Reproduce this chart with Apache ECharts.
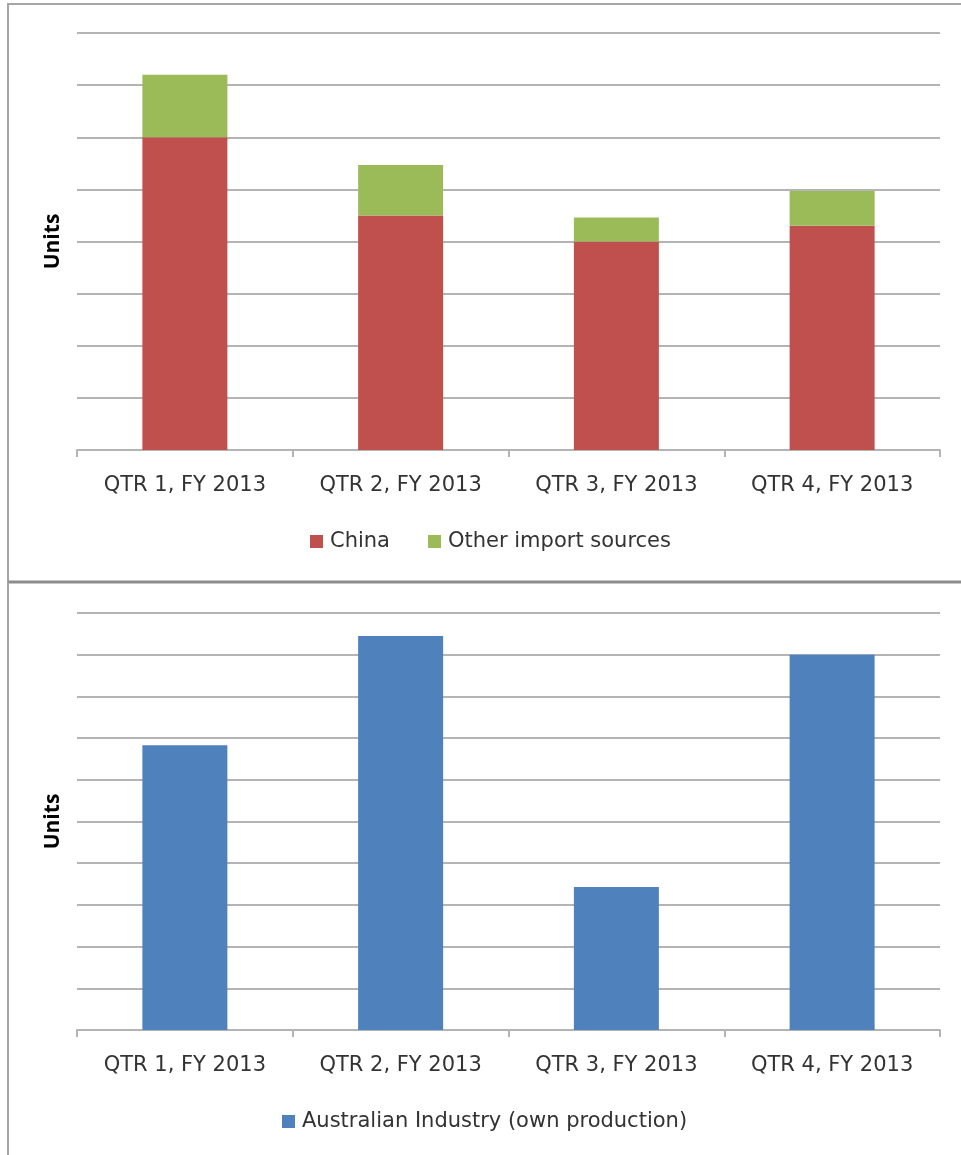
<!DOCTYPE html>
<html>
<head>
<meta charset="utf-8">
<style>
  html, body { margin: 0; padding: 0; background: #ffffff; }
  #chart { width: 961px; height: 1155px; }
</style>
<script src="https://cdn.jsdelivr.net/npm/echarts@6/dist/echarts.min.js"></script>
</head>
<body>
<div id="chart"></div>
<script>
// Quarterly categories shared by both panels
const quarters = ['QTR 1, FY 2013', 'QTR 2, FY 2013', 'QTR 3, FY 2013', 'QTR 4, FY 2013'];

// Imports by source (units, unlabelled scale)
const chinaImports = [6.0, 4.5, 4.0, 4.3];
const otherImports = [1.2, 0.97, 0.46, 0.67];

// Australian industry own production (units, unlabelled scale)
const australianProduction = [6.83, 9.45, 3.43, 9.0];

const FONT = '"DejaVu Sans", "Open Sans", sans-serif';
const TITLE_FONT = '"Open Sans", sans-serif';
const GRID_COLOR = '#b4b4b4';
const TEXT_COLOR = '#333333';

function categoryAxis(gridIndex) {
  return {
    type: 'category',
    gridIndex: gridIndex,
    data: quarters,
    boundaryGap: true,
    axisLine: { lineStyle: { color: GRID_COLOR, width: 2 } },
    axisTick: { show: true, alignWithLabel: false, length: 7, lineStyle: { color: GRID_COLOR, width: 2 } },
    axisLabel: { color: TEXT_COLOR, fontFamily: FONT, fontSize: 21, margin: 25 }
  };
}

function valueAxis(gridIndex, max) {
  return {
    type: 'value',
    gridIndex: gridIndex,
    min: 0,
    max: max,
    interval: 1,
    name: 'Units',
    nameLocation: 'middle',
    nameGap: 13,
    nameRotate: 90,
    nameTextStyle: { color: '#000000', fontFamily: TITLE_FONT, fontSize: 21, fontWeight: 'bold' },
    axisLine: { show: false },
    axisTick: { show: false },
    axisLabel: { show: false },
    splitLine: { lineStyle: { color: GRID_COLOR, width: 2 } }
  };
}

const chart = echarts.init(document.getElementById('chart'), null, { renderer: 'canvas' });

chart.setOption({
  backgroundColor: '#ffffff',
  animation: false,
  textStyle: { fontFamily: FONT },
  grid: [
    { left: 77, right: 21, top: 33, height: 417 },
    { left: 77, right: 21, top: 613, height: 417 }
  ],
  xAxis: [categoryAxis(0), categoryAxis(1)],
  yAxis: [valueAxis(0, 8), valueAxis(1, 10)],
  legend: [
    {
      data: ['China', 'Other import sources'],
      left: 305, top: 526,
      icon: 'rect', itemWidth: 13, itemHeight: 13, itemGap: 38,
      textStyle: { color: TEXT_COLOR, fontFamily: FONT, fontSize: 21, padding: [0, 0, 0, 2] }
    },
    {
      data: ['Australian Industry (own production)'],
      left: 277, top: 1106,
      icon: 'rect', itemWidth: 13, itemHeight: 13,
      textStyle: { color: TEXT_COLOR, fontFamily: FONT, fontSize: 21, padding: [0, 0, 0, 2] }
    }
  ],
  series: [
    {
      name: 'China', type: 'bar', stack: 'imports',
      xAxisIndex: 0, yAxisIndex: 0, barWidth: 85,
      itemStyle: { color: '#C0504D' },
      data: chinaImports
    },
    {
      name: 'Other import sources', type: 'bar', stack: 'imports',
      xAxisIndex: 0, yAxisIndex: 0, barWidth: 85,
      itemStyle: { color: '#9BBB59' },
      data: otherImports
    },
    {
      name: 'Australian Industry (own production)', type: 'bar',
      xAxisIndex: 1, yAxisIndex: 1, barWidth: 85,
      itemStyle: { color: '#4F81BD' },
      data: australianProduction
    }
  ],
  graphic: [
    // frame around the upper panel
    { type: 'rect', shape: { x: 8, y: 4, width: 960, height: 578 }, style: { fill: 'none', stroke: '#a6a6a6', lineWidth: 2 }, z: 100 },
    // separator between panels and left edge of the lower panel
    { type: 'line', shape: { x1: 8, y1: 582, x2: 961, y2: 582 }, style: { stroke: '#8c8c8c', lineWidth: 3 }, z: 100 },
    { type: 'line', shape: { x1: 8, y1: 582, x2: 8, y2: 1155 }, style: { stroke: '#a6a6a6', lineWidth: 2 }, z: 100 }
  ]
});
</script>
</body>
</html>
